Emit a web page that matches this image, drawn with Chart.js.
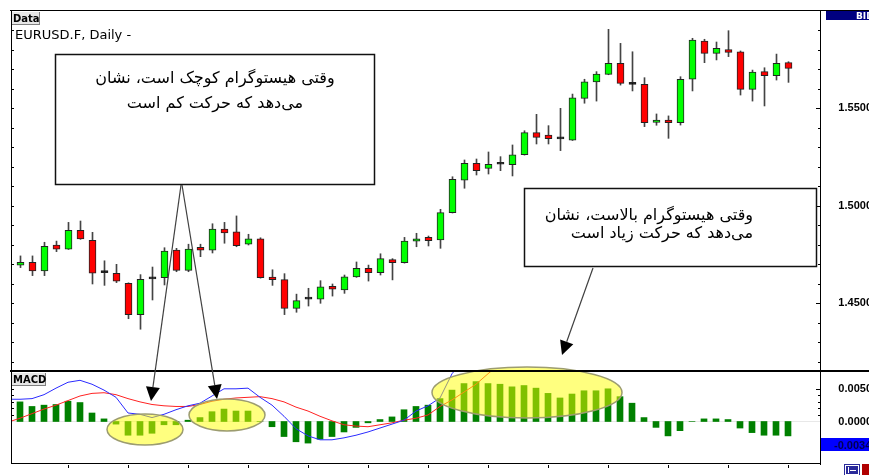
<!DOCTYPE html>
<html>
<head>
<meta charset="utf-8">
<script src="https://cdn.jsdelivr.net/npm/chart.js@4.4.1/dist/chart.umd.min.js"></script>
<style>
body{margin:0;background:#fff}
#wrap{position:relative;width:869px;height:475px;overflow:hidden}
canvas{position:absolute;left:0;top:0}
</style>
</head>
<body>
<div id="wrap">
<canvas id="price" width="872" height="475"></canvas>
<canvas id="macd" width="872" height="475"></canvas>
</div>
<script>
// EURUSD daily candles
var opens=[1.4696,1.4710,1.4666,1.4799,1.4778,1.4874,1.4823,1.4657,1.4654,1.4603,
 1.4442,1.4625,1.4631,1.4773,1.4669,1.4787,1.4772,1.4881,1.4867,1.4803,
 1.4830,1.4635,1.4621,1.4474,1.4521,1.4521,1.4587,1.4568,1.4635,1.4679,
 1.4657,1.4724,1.4708,1.4818,1.4838,1.4825,1.4965,1.5132,1.5218,1.5192,
 1.5213,1.5211,1.5262,1.5375,1.5363,1.5343,1.5337,1.5551,1.5635,1.5674,
 1.5731,1.5623,1.5623,1.5428,1.5440,1.5426,1.5649,1.5845,1.5782,1.5801,
 1.5789,1.5597,1.5688,1.5667,1.5734]
var highs=[1.4743,1.4743,1.4813,1.4819,1.4915,1.4922,1.4864,1.4718,1.4700,1.4605,
 1.4647,1.4686,1.4785,1.4782,1.4803,1.4803,1.4908,1.4915,1.4948,1.4854,
 1.4836,1.4672,1.4652,1.4547,1.4577,1.4616,1.4599,1.4645,1.4712,1.4696,
 1.4754,1.4729,1.4838,1.4859,1.4845,1.4982,1.5149,1.5235,1.5240,1.5276,
 1.5252,1.5312,1.5385,1.5469,1.5411,1.5500,1.5573,1.5649,1.5688,1.5905,
 1.5833,1.5790,1.5657,1.5471,1.5461,1.5662,1.5859,1.5854,1.5840,1.5898,
 1.5794,1.5696,1.5708,1.5778,1.5739]
var lows=[1.4683,1.4642,1.4642,1.4765,1.4776,1.4828,1.4599,1.4592,1.4606,1.4421,
 1.4367,1.4517,1.4594,1.4662,1.4662,1.4739,1.4758,1.4808,1.4790,1.4799,
 1.4629,1.4592,1.4442,1.4454,1.4486,1.4500,1.4537,1.4551,1.4633,1.4614,
 1.4645,1.4620,1.4706,1.4790,1.4794,1.4782,1.4963,1.5090,1.5158,1.5163,
 1.5180,1.5153,1.5260,1.5317,1.5317,1.5283,1.5335,1.5526,1.5537,1.5672,
 1.5619,1.5589,1.5406,1.5413,1.5346,1.5414,1.5589,1.5734,1.5748,1.5765,
 1.5568,1.5537,1.5512,1.5645,1.5633]
var closes=[1.4710,1.4666,1.4792,1.4778,1.4874,1.4830,1.4654,1.4657,1.4613,1.4442,
 1.4623,1.4625,1.4768,1.4669,1.4778,1.4772,1.4881,1.4861,1.4795,1.4830,
 1.4631,1.4621,1.4474,1.4514,1.4521,1.4584,1.4572,1.4636,1.4679,1.4657,
 1.4729,1.4708,1.4819,1.4831,1.4821,1.4965,1.5136,1.5218,1.5180,1.5213,
 1.5213,1.5262,1.5375,1.5351,1.5344,1.5343,1.5554,1.5636,1.5676,1.5731,
 1.5628,1.5623,1.5426,1.5440,1.5426,1.5649,1.5850,1.5782,1.5808,1.5787,
 1.5597,1.5686,1.5667,1.5731,1.5705]

// MACD histogram, one bar per candle
var histogram=[0.0030,0.0023,0.0025,0.0026,0.0031,0.0029,0.0013,0.0004,-0.0004,-0.0021,
 -0.0021,-0.0018,-0.0005,-0.0005,0.0002,0.0006,0.0015,0.0019,0.0016,0.0016,
 0,-0.0008,-0.0023,-0.0031,-0.0033,-0.0027,-0.0023,-0.0016,-0.0009,-0.0002,
 0.0003,0.0007,0.0018,0.0023,0.0025,0.0035,0.0048,0.0058,0.0061,0.0058,
 0.0057,0.0053,0.0055,0.0051,0.0043,0.0036,0.0042,0.0047,0.0047,0.0050,
 0.0038,0.0028,0.0006,-0.0009,-0.0022,-0.0014,0,0.0004,0.0004,0.0003,
 -0.0010,-0.0017,-0.0021,-0.0021,-0.0022]
// the two lines start one bar before the first candle
var macdLine=[0.0034,0.0034,0.0035,0.0041,0.0051,0.0060,0.0063,0.0057,0.0048,0.0037,0.0013,
 0.0011,0.0006,0.0011,0.0018,0.0024,0.0028,0.0039,0.0050,0.0050,0.0051,
 0.0037,0.0025,0.0008,-0.0011,-0.0022,-0.0028,-0.0028,-0.0025,-0.0021,-0.0016,
 -0.0010,-0.0004,0.0002,0.0016,0.0024,0.0036,0.0073,0.0095,0.0115,0.0130,
 0.0140,0.0148,0.0155,0.0160,0.0162,0.0160,0.0158,0.0165,0.0172,0.0178,
 0.0182,0.0175,0.0165,0.0150,0.0140,0.0135,0.0138,0.0142,0.0146,0.0148,
 0.0140,0.0132,0.0128,0.0126,0.0124]
var signalLine=[-0.0001,0.0005,0.0012,0.0019,0.0025,0.0032,0.0039,0.0043,0.0044,0.0041,0.0035,
 0.0030,0.0026,0.0024,0.0023,0.0023,0.0026,0.0031,0.0034,0.0036,0.0037,
 0.0038,0.0035,0.0030,0.0022,0.0016,0.0008,0.0001,-0.0005,-0.0007,-0.0008,
 -0.0005,-0.0002,0.0002,0.0005,0.0010,0.0023,0.0033,0.0045,0.0057,0.0073,
 0.0088,0.0100,0.0110,0.0118,0.0124,0.0128,0.0130,0.0132,0.0134,0.0136,
 0.0140,0.0142,0.0145,0.0146,0.0146,0.0145,0.0144,0.0143,0.0143,0.0143,
 0.0143,0.0142,0.0140,0.0138,0.0136]

var priceTicks=[1.45,1.50,1.55]
var macdTicks=[0,0.005]
var xTicks=[4,9,14,19,24,29,34,39,44,49,54,59,64]
var lastMacdLabel='-0.0034'

var box1Text=['وقتی هیستوگرام کوچک است، نشان','می\u200cدهد که حرکت کم است']
var box2Text=['وقتی هیستوگرام بالاست، نشان','می\u200cدهد که حرکت زیاد است']

const up='#00ff00', down='#ff0000'
function candleColor(i){
    if (closes[i]>opens[i]) return up
    if (closes[i]<opens[i]) return down
    return '#000'
}
const axisFont={family:'Liberation Sans',size:11,weight:'bold'}

// frame, ticks and labels of the price panel
const priceDecor={
  id:'priceDecor',
  afterDraw(chart){
    const ctx=chart.ctx, y=chart.scales.y, a=chart.chartArea
    ctx.save()
    ctx.fillStyle='#000'
    ctx.fillRect(10,10,862,1)
    ctx.fillRect(11,10,1,362)
    ctx.fillRect(820,10,1,362)
    for (let k=142;k<=160;k++){
        const py=Math.round(y.getPixelForValue(k/100))
        if (py<=a.top+1 || py>=a.bottom-2) continue
        const major=(k%5==0)
        ctx.fillRect(12,py,2,1)
        ctx.fillRect(major?816:818,py,major?4:2,1)
    }
    // "Data" tag
    ctx.fillStyle='#e6e6e6'; ctx.fillRect(12,12,28,13)
    ctx.fillStyle='#808080'; ctx.fillRect(39,12,1,13); ctx.fillRect(12,24,28,1)
    ctx.fillStyle='#000'; ctx.font='bold 10px "DejaVu Sans"'; ctx.textBaseline='alphabetic'
    ctx.fillText('Data',13,22)
    ctx.font='13px "DejaVu Sans"'
    ctx.fillText('EURUSD.F, Daily -',15,39)
    // BID tag
    ctx.fillStyle='#000080'; ctx.fillRect(826,11,46,9)
    ctx.fillStyle='#fff'; ctx.font='bold 9px "DejaVu Sans"'
    ctx.fillText('BID',856,19)
    ctx.restore()
  }
}

function arrow(ctx,x1,y1,x2,y2){
    const ang=Math.atan2(y2-y1,x2-x1), hl=14, hw=7
    const bx=x2-hl*Math.cos(ang), by=y2-hl*Math.sin(ang)
    ctx.strokeStyle='#404040'; ctx.lineWidth=1.2
    ctx.beginPath(); ctx.moveTo(x1,y1); ctx.lineTo(bx,by); ctx.stroke()
    ctx.fillStyle='#000'
    ctx.beginPath(); ctx.moveTo(x2,y2)
    ctx.lineTo(bx+hw*Math.sin(ang),by-hw*Math.cos(ang))
    ctx.lineTo(bx-hw*Math.sin(ang),by+hw*Math.cos(ang))
    ctx.closePath(); ctx.fill()
}

function ellipse(ctx,cx,cy,rx,ry){
    ctx.beginPath(); ctx.ellipse(cx,cy,rx,ry,0,0,Math.PI*2)
    ctx.fillStyle='rgba(255,255,0,0.5)'; ctx.fill()
    ctx.strokeStyle='#9c9c70'; ctx.lineWidth=1.5; ctx.stroke()
}

// MACD panel frame plus the notes drawn over both panels
const macdDecor={
  id:'macdDecor',
  beforeDatasetsDraw(chart){
    const ctx=chart.ctx, a=chart.chartArea
    const y0=Math.round(chart.scales.y.getPixelForValue(0))
    ctx.save(); ctx.fillStyle='#e8e8e8'; ctx.fillRect(a.left+1,y0,a.right-a.left-1,1); ctx.restore()
  },
  afterDraw(chart){
    const ctx=chart.ctx, x=chart.scales.x, y=chart.scales.y
    ctx.save()
    ellipse(ctx,145,429.5,38,15.5)
    ellipse(ctx,227,415,38,16)
    ellipse(ctx,527,392.5,95,25.5)

    ctx.fillStyle='#000'
    ctx.fillRect(10,370,862,2)
    ctx.fillRect(11,372,1,91)
    ctx.fillRect(820,372,1,93)
    ctx.fillRect(11,463,810,1)
    for (let k=1;k<=5;k++){
        const py=Math.round(y.getPixelForValue(k/1000))
        ctx.fillRect(12,py,2,1)
        ctx.fillRect(k==5?816:818,py,k==5?4:2,1)
    }
    xTicks.forEach(i=>{
        ctx.fillRect(Math.round(x.getPixelForValue(i)),465,1,3)
    })
    // MACD tag
    ctx.fillStyle='#e6e6e6'; ctx.fillRect(12,373,34,13)
    ctx.fillStyle='#808080'; ctx.fillRect(45,373,1,13); ctx.fillRect(12,385,34,1)
    ctx.fillStyle='#000'; ctx.font='bold 10px "DejaVu Sans"'
    ctx.fillText('MACD',13,383)
    // current value tag
    ctx.fillStyle='#0000ff'; ctx.fillRect(821,438,51,13)
    ctx.fillStyle='#000050'; ctx.font='bold 11px "Liberation Sans"'
    ctx.fillText(lastMacdLabel,834,449)
    // small buttons bottom right
    ctx.fillStyle='#2a2a9a'; ctx.fillRect(844,464,16,11)
    ctx.fillStyle='#b00000'; ctx.fillRect(862,464,10,11)
    ctx.strokeStyle='#fff'; ctx.lineWidth=1
    ctx.strokeRect(845.5,465.5,13,9)
    ctx.beginPath(); ctx.moveTo(848.5,467); ctx.lineTo(848.5,473); ctx.moveTo(850,470.5); ctx.lineTo(856,470.5); ctx.stroke()

    // callout boxes
    ctx.fillStyle='#fff'; ctx.fillRect(55,54,320,130)
    ctx.strokeStyle='#111'; ctx.lineWidth=1.5; ctx.strokeRect(55.5,54.5,319,130)
    ctx.fillStyle='#fff'; ctx.fillRect(524,188,293,79)
    ctx.strokeRect(524.5,188.5,292,78)
    ctx.fillStyle='#000'; ctx.direction='rtl'; ctx.textBaseline='middle'
    ctx.font='16px "DejaVu Sans"'
    ctx.textAlign='center'
    ctx.fillText(box1Text[0],215,79)
    ctx.fillText(box1Text[1],215,104)
    ctx.textAlign='right'
    ctx.fillText(box2Text[0],753,216)
    ctx.fillText(box2Text[1],753,234)

    arrow(ctx,181,185,151,401)
    arrow(ctx,182,185,217,399)
    arrow(ctx,593,268,562,355)
    ctx.restore()
  }
}

new Chart(document.getElementById('price'),{
  type:'bar',
  data:{datasets:[
    {label:'body',data:opens.map((o,i)=>({x:i,y:[o,closes[i]]})),
     backgroundColor:ctx=>candleColor(ctx.dataIndex),borderColor:'#222',borderWidth:1,borderSkipped:false,
     barThickness:7,minBarLength:2,grouped:false,order:0},
    {label:'wick',data:highs.map((h,i)=>({x:i,y:[lows[i],h]})),
     backgroundColor:'#444',borderWidth:0,barThickness:1,grouped:false,order:1}
  ]},
  options:{
    responsive:false,animation:false,events:[],
    layout:{padding:{left:11,top:10,right:0,bottom:103}},
    plugins:{legend:{display:false},tooltip:{enabled:false}},
    scales:{
      x:{type:'linear',display:false,offset:false,min:-0.791667,max:66.625},
      y:{position:'right',min:1.414769,max:1.600410,
         grid:{display:false,drawTicks:false},border:{display:false},
         afterFit:s=>{s.width=52},
         afterBuildTicks:s=>{s.ticks=priceTicks.map(v=>({value:v}))},
         ticks:{padding:0,crossAlign:'far',color:'#000',font:axisFont,callback:v=>v.toFixed(4)}}
    }
  },
  plugins:[priceDecor]
})

new Chart(document.getElementById('macd'),{
  type:'bar',
  data:{datasets:[
    {type:'line',label:'MACD',data:macdLine.map((v,i)=>({x:i-1,y:v})),borderColor:'#2b2bff',borderWidth:1,pointRadius:0,order:0},
    {type:'line',label:'Signal',data:signalLine.map((v,i)=>({x:i-1,y:v})),borderColor:'#ff2222',borderWidth:1,pointRadius:0,order:1},
    {type:'bar',label:'Histogram',data:histogram.map((v,i)=>({x:i,y:v})),backgroundColor:'#008000',
     barThickness:6,grouped:false,clip:0,order:2}
  ]},
  options:{
    responsive:false,animation:false,events:[],
    layout:{padding:{left:11,top:372,right:0,bottom:12}},
    plugins:{legend:{display:false},tooltip:{enabled:false}},
    scales:{
      x:{type:'linear',display:false,offset:false,min:-0.75,max:66.666667},
      y:{position:'right',min:-0.0063456,max:0.0075688,
         grid:{display:false,drawTicks:false},border:{display:false},
         afterFit:s=>{s.width=52},
         afterBuildTicks:s=>{s.ticks=macdTicks.map(v=>({value:v}))},
         ticks:{padding:0,crossAlign:'far',color:'#000',font:axisFont,callback:v=>v.toFixed(4)}}
    }
  },
  plugins:[macdDecor]
})
</script>
</body>
</html>
